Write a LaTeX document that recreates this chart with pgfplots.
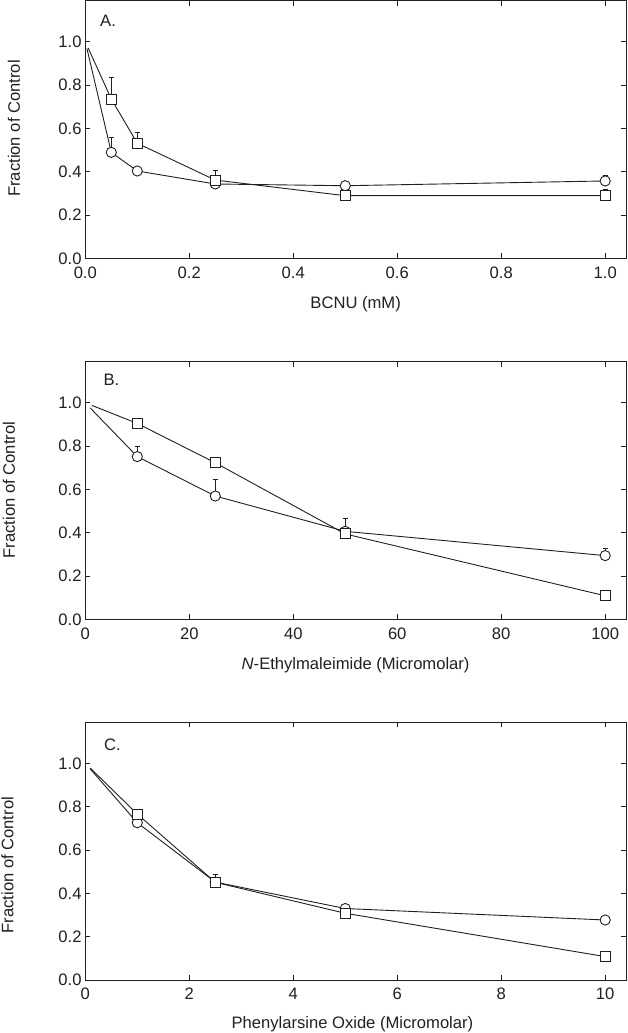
\documentclass[border=0pt]{standalone}
\usepackage{fontspec}
\setmainfont{Liberation Sans}
\usepackage{pgfplots}
\pgfplotsset{compat=1.18}
\definecolor{ink}{HTML}{202020}
\newcommand{\fs}{\fontsize{16.6}{20}\selectfont}
\pgfplotsset{
  panel/.style={
    scale only axis, width=540.7pt, height=257.6pt,
    ymin=0, ymax=1.189,
    ytick={0,0.2,0.4,0.6,0.8,1.0},
    tick align=inside, major tick length=5pt,
    minor tick num=0,
    axis line style={ink, line width=0.9pt},
    every tick/.style={ink, line width=0.9pt},
    /pgf/number format/assume math mode=true,
    tick label style={font=\fs, inner sep=0pt, text=ink},
    yticklabel style={anchor=east, xshift=-3.6pt},
    yticklabel={\pgfmathprintnumber[fixed,fixed zerofill,precision=1]{\tick}},
    xticklabel style={anchor=base, yshift=-19.8pt},
    label style={font=\fs, inner sep=0pt, text=ink},
  },
  errs/.style={draw=none, mark=none, forget plot,
    error bars/.cd, y dir=plus, y explicit,
    error bar style={draw=ink, line width=0.9pt, solid},
    error mark options={draw=ink, rotate=90, mark size=2.6pt, line width=0.9pt}},
  circs/.style={ink, line width=0.9pt, mark=*, mark size=5.1pt,
    mark options={fill=white, draw=ink, solid, line width=0.9pt},
    mark indices={2,3,4,5,6}},
  sqs/.style={ink, line width=0.9pt, mark=square*, mark size=5.0pt,
    mark options={fill=white, draw=ink, solid, line width=0.9pt},
    mark indices={2,3,4,5,6}},
}
\begin{document}
\begin{tikzpicture}
% ---------------- Panel A ----------------
\begin{axis}[panel, at={(85.3pt,-258.3pt)}, anchor=south west,
  xmin=0, xmax=1.04,
  xtick={0,0.2,0.4,0.6,0.8,1.0},
  xticklabel={\pgfmathprintnumber[fixed,fixed zerofill,precision=1]{\tick}},
  xlabel={BCNU (mM)},
  xlabel style={at={(rel axis cs:0.5,0)}, anchor=base, yshift=-50pt},
  ylabel={Fraction of Control},
  ylabel style={at={(rel axis cs:-0.1208,0.504)}, anchor=base},
]
\addplot[errs] table[x=x, y=y, y error=e] {
x y e
0.05 0.489 0.068
0.1 0.403 0.01
0.25 0.343 0.01
0.5 0.335 0.01
1.0 0.357 0.027
};
\addplot[circs] table[x=x, y=y] {
x y
0.0031 0.9686
0.05 0.489
0.1 0.403
0.25 0.343
0.5 0.335
1.0 0.357
};
\addplot[errs] table[x=x, y=y, y error=e] {
x y e
0.05 0.735 0.099
0.1 0.531 0.049
0.25 0.361 0.043
0.5 0.289 0.060
1.0 0.289 0.031
};
\addplot[sqs] table[x=x, y=y] {
x y
0.0056 0.9705
0.05 0.735
0.1 0.531
0.25 0.361
0.5 0.289
1.0 0.289
};
\node[anchor=base west, font=\fs, inner sep=0pt, text=ink] at (rel axis cs:0.0272,0.899) {A.};
\end{axis}
% ---------------- Panel B ----------------
\begin{axis}[panel, at={(85.3pt,-619.3pt)}, anchor=south west,
  xmin=0, xmax=104,
  xtick={0,20,40,60,80,100},
  xlabel={\textit{N}-Ethylmaleimide (Micromolar)},
  xlabel style={at={(rel axis cs:0.5,0)}, anchor=base, yshift=-50.5pt},
  ylabel={Fraction of Control},
  ylabel style={at={(rel axis cs:-0.1301,0.502)}, anchor=base},
]
\addplot[errs] table[x=x, y=y, y error=e] {
x y e
10 0.751 0.046
25 0.569 0.076
50 0.406 0.058
100 0.294 0.034
};
\addplot[circs] table[x=x, y=y] {
x y
0.92 0.976
10 0.751
25 0.569
50 0.406
100 0.294
};
\addplot[sqs] table[x=x, y=y] {
x y
1.25 0.9875
10 0.904
25 0.7225
50 0.394
100 0.1085
};
\addplot[errs] table[x=x, y=y, y error=e] {
x y e
10 0.904 0.017
25 0.7225 0.018
50 0.394 0.015
100 0.1085 0.018
};
\node[anchor=base west, font=\fs, inner sep=0pt, text=ink] at (rel axis cs:0.0333,0.9095) {B.};
\end{axis}
% ---------------- Panel C ----------------
\begin{axis}[panel, at={(85.3pt,-980pt)}, anchor=south west,
  xmin=0, xmax=10.4,
  xtick={0,2,4,6,8,10},
  xlabel={Phenylarsine Oxide (Micromolar)},
  xlabel style={at={(rel axis cs:0.494,0)}, anchor=base, yshift=-48.5pt},
  ylabel={Fraction of Control},
  ylabel style={at={(rel axis cs:-0.1332,0.4457)}, anchor=base},
]
\addplot[errs] table[x=x, y=y, y error=e] {
x y e
1 0.726 0.01
2.5 0.452 0.01
5 0.330 0.01
10 0.277 0.01
};
\addplot[circs] table[x=x, y=y] {
x y
0.088 0.976
1 0.726
2.5 0.452
5 0.330
10 0.277
};
\addplot[sqs] table[x=x, y=y] {
x y
0.096 0.978
1 0.766
2.5 0.451
5 0.308
10 0.108
};
\addplot[errs] table[x=x, y=y, y error=e] {
x y e
1 0.766 0.02
2.5 0.451 0.037
5 0.308 0.01
10 0.108 0.018
};
\node[anchor=base west, font=\fs, inner sep=0pt, text=ink] at (rel axis cs:0.0346,0.890) {C.};
\end{axis}
\pgfresetboundingbox
\useasboundingbox (0pt,0pt) rectangle (627pt,-1033pt);
\end{tikzpicture}
\end{document}
